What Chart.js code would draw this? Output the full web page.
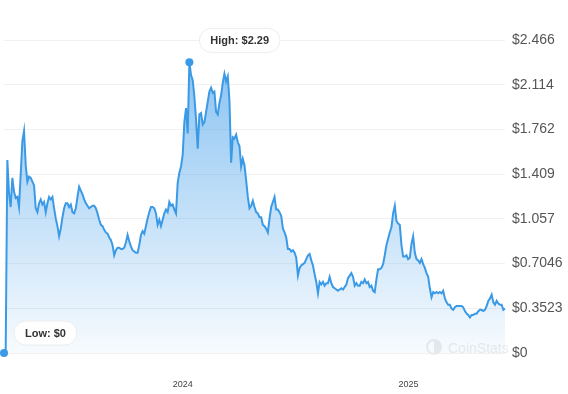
<!DOCTYPE html>
<html>
<head>
<meta charset="utf-8">
<script src="https://cdn.jsdelivr.net/npm/chart.js@4.4.1/dist/chart.umd.min.js"></script>
<style>
  html, body { margin: 0; padding: 0; background: #fff; }
  #wrap { width: 568px; height: 394px; position: relative; }
</style>
</head>
<body>
<div id="wrap"><canvas id="priceChart"></canvas></div>
<script>
// sampling of the price line (start date + fixed step)
const startTime = Date.UTC(2023, 2, 17);
const stepHours = 65;

// price in USD
const prices = [
  0, 0, 1.52, 1.26, 1.15, 1.38, 1.27, 1.22, 1.23, 1.15,
  1.41, 1.67, 1.75, 1.48, 1.35, 1.39, 1.38, 1.35, 1.32, 1.14,
  1.11, 1.18, 1.21, 1.17, 1.19, 1.11, 1.18, 1.23, 1.21, 1.23,
  1.14, 1.06, 1.00, 0.92, 0.98, 1.07, 1.14, 1.18, 1.18, 1.15,
  1.17, 1.11, 1.10, 1.14, 1.23, 1.31, 1.28, 1.25, 1.21, 1.18,
  1.16, 1.14, 1.15, 1.16, 1.16, 1.14, 1.10, 1.05, 1.01, 1.00,
  0.97, 0.95, 0.94, 0.91, 0.89, 0.85, 0.77, 0.81, 0.83, 0.83,
  0.82, 0.82, 0.83, 0.87, 0.93, 0.88, 0.84, 0.81, 0.80, 0.79,
  0.79, 0.85, 0.93, 0.96, 0.94, 1.00, 1.06, 1.11, 1.15, 1.15,
  1.14, 1.10, 1.01, 1.05, 1.00, 1.05, 1.10, 1.13, 1.11, 1.19,
  1.16, 1.17, 1.13, 1.10, 1.34, 1.42, 1.47, 1.56, 1.82, 1.93,
  1.73, 2.29, 2.19, 2.15, 2.02, 1.84, 1.61, 1.88, 1.89, 1.80,
  1.82, 1.90, 1.98, 2.06, 2.09, 2.05, 2.06, 1.90, 1.88, 1.97,
  2.03, 2.13, 2.20, 2.14, 2.18, 1.99, 1.50, 1.70, 1.69, 1.72,
  1.66, 1.63, 1.47, 1.53, 1.48, 1.36, 1.23, 1.14, 1.16, 1.20,
  1.15, 1.11, 1.10, 1.07, 1.07, 1.01, 1.00, 0.98, 0.95, 1.06,
  1.15, 1.19, 1.23, 1.13, 1.13, 1.11, 1.08, 0.98, 0.95, 0.91,
  0.82, 0.82, 0.80, 0.81, 0.79, 0.75, 0.61, 0.67, 0.69, 0.70,
  0.71, 0.74, 0.77, 0.78, 0.73, 0.69, 0.62, 0.56, 0.47, 0.56,
  0.54, 0.56, 0.53, 0.55, 0.55, 0.60, 0.55, 0.52, 0.51, 0.50,
  0.49, 0.50, 0.51, 0.50, 0.52, 0.54, 0.59, 0.61, 0.63, 0.60,
  0.53, 0.55, 0.53, 0.53, 0.56, 0.55, 0.58, 0.55, 0.56, 0.52,
  0.53, 0.49, 0.48, 0.58, 0.66, 0.66, 0.67, 0.70, 0.77, 0.85,
  0.90, 0.95, 0.99, 1.10, 1.16, 1.04, 1.02, 1.01, 0.85, 0.76,
  0.76, 0.77, 0.74, 0.75, 0.86, 0.92, 0.79, 0.74, 0.73, 0.71,
  0.74, 0.70, 0.67, 0.63, 0.60, 0.51, 0.44, 0.48, 0.47, 0.48,
  0.47, 0.48, 0.47, 0.49, 0.43, 0.40, 0.38, 0.38, 0.35, 0.34,
  0.36, 0.37, 0.37, 0.37, 0.37, 0.36, 0.33, 0.31, 0.30, 0.28,
  0.30, 0.30, 0.31, 0.31, 0.33, 0.34, 0.34, 0.33, 0.34, 0.37,
  0.41, 0.43, 0.46, 0.40, 0.38, 0.41, 0.39, 0.38, 0.38, 0.34,
  0.35
];

const yTickValues = [0, 0.3523, 0.7046, 1.0569, 1.4092, 1.7615, 2.1138, 2.4661];
const yTickLabels = ['$0', '$0.3523', '$0.7046', '$1.057', '$1.409', '$1.762', '$2.114', '$2.466'];
const xTickDates = ['2024-01-01', '2025-01-01'];
const xTickLabels = ['2024', '2025'];

const lineColor = '#3b9ae6';
const fontFamily = '"Liberation Sans", Arial, sans-serif';
Chart.defaults.font.family = fontFamily;

const points = prices.map((p, i) => ({ x: startTime + i * stepHours * 3600000, y: p }));
const hiIdx = prices.indexOf(Math.max(...prices));
const loIdx = prices.indexOf(Math.min(...prices));

// faint CoinStats watermark
const watermark = {
  id: 'watermark',
  beforeDatasetsDraw(chart) {
    const { ctx, chartArea } = chart;
    const cx = chartArea.right - 71, cy = chartArea.bottom - 6;
    ctx.save();
    ctx.strokeStyle = '#ececec';
    ctx.fillStyle = '#ececec';
    ctx.lineWidth = 2;
    ctx.beginPath();
    ctx.arc(cx, cy, 7, 0, Math.PI * 2);
    ctx.stroke();
    ctx.beginPath();
    ctx.moveTo(cx, cy);
    ctx.arc(cx, cy, 7, -Math.PI / 2, Math.PI / 2);
    ctx.closePath();
    ctx.fill();
    ctx.font = '14px ' + fontFamily;
    ctx.textBaseline = 'alphabetic';
    ctx.fillText('CoinStats', chartArea.right - 57, chartArea.bottom);
    ctx.restore();
  }
};

// pill labels next to the high and low points
const markerLabels = {
  id: 'markerLabels',
  afterDatasetsDraw(chart) {
    const meta = chart.getDatasetMeta(0);
    const ctx = chart.ctx;
    const drawLabel = (idx, text, dy) => {
      const pt = meta.data[idx];
      ctx.save();
      ctx.font = 'bold 11px ' + fontFamily;
      const pad = 11;
      const w = ctx.measureText(text).width + pad * 2;
      const h = 24;
      const x = pt.x + 10;
      const y = pt.y + dy - h / 2;
      ctx.beginPath();
      ctx.roundRect(x, y, w, h, 12);
      ctx.fillStyle = 'rgba(255,255,255,0.94)';
      ctx.fill();
      ctx.strokeStyle = '#ececec';
      ctx.lineWidth = 1;
      ctx.stroke();
      ctx.fillStyle = '#333';
      ctx.textBaseline = 'middle';
      ctx.fillText(text, x + pad, y + h / 2 + 0.5);
      ctx.restore();
    };
    drawLabel(hiIdx, 'High: $' + prices[hiIdx], -22);
    drawLabel(loIdx, 'Low: $' + prices[loIdx], -20);
  }
};

const ctx = document.getElementById('priceChart').getContext('2d');
const priceChart = new Chart(ctx, {
  type: 'line',
  data: {
    datasets: [{
      data: points,
      borderColor: lineColor,
      borderWidth: 2,
      tension: 0,
      fill: 'origin',
      clip: false,
      backgroundColor: (c) => {
        const area = c.chart.chartArea;
        if (!area) return 'rgba(0,0,0,0)';
        const g = c.chart.ctx.createLinearGradient(0, area.top, 0, area.bottom);
        g.addColorStop(0, 'rgba(56,152,232,0.62)');
        g.addColorStop(1, 'rgba(56,152,232,0.04)');
        return g;
      },
      pointRadius: (c) => (c.dataIndex === hiIdx || c.dataIndex === loIdx) ? 4 : 0,
      pointBackgroundColor: lineColor,
      pointBorderWidth: 0,
      pointHoverRadius: 0
    }]
  },
  options: {
    responsive: true,
    maintainAspectRatio: false,
    animation: false,
    layout: { padding: { top: 40, left: 4, right: 0, bottom: 0 } },
    plugins: {
      legend: { display: false },
      tooltip: { enabled: false }
    },
    scales: {
      x: {
        type: 'linear',
        min: points[0].x,
        max: points[points.length - 1].x,
        grid: { display: false },
        border: { display: false },
        afterBuildTicks: (s) => { s.ticks = xTickDates.map(d => ({ value: Date.parse(d) })); },
        afterFit: (s) => { s.height = 41; },
        ticks: {
          autoSkip: false,
          maxRotation: 0,
          padding: 18,
          color: '#444',
          font: { size: 9 },
          callback: (v, i) => xTickLabels[i]
        }
      },
      y: {
        position: 'right',
        min: 0,
        max: yTickValues[yTickValues.length - 1],
        grid: { color: '#f1f1f1', drawTicks: false },
        border: { display: false },
        afterBuildTicks: (s) => { s.ticks = yTickValues.map(v => ({ value: v })); },
        afterFit: (s) => { s.width = 63; },
        ticks: {
          padding: 7,
          color: '#555',
          font: { size: 14 },
          callback: (v, i) => yTickLabels[i]
        }
      }
    }
  },
  plugins: [watermark, markerLabels]
});
</script>
</body>
</html>
